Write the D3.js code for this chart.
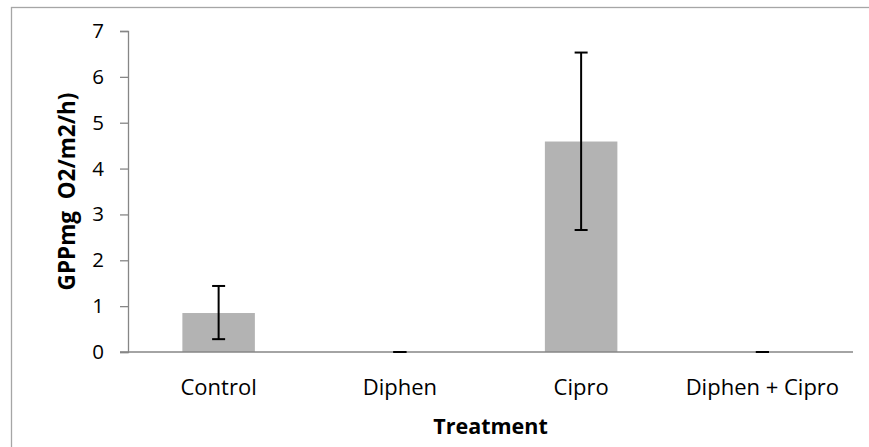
<!DOCTYPE html>
<html>
<head>
<meta charset="utf-8">
<script src="https://cdn.jsdelivr.net/npm/d3@7"></script>
<style>
  html, body { margin: 0; padding: 0; background: #fff; }
  svg { display: block; }
  text { font-family: "Open Sans", sans-serif; fill: #000; }
</style>
</head>
<body>
<div id="chart"></div>
<script>
// GPP by treatment, with error bars
const categories = ["Control", "Diphen", "Cipro", "Diphen + Cipro"];
const means = [0.85, 0, 4.59, 0];
const errLow = [0.28, 0, 2.66, 0];
const errHigh = [1.44, 0, 6.53, 0];
const yTicks = [0, 1, 2, 3, 4, 5, 6, 7];
const yTitle = "GPPmg  O2/m2/h)";
const xTitle = "Treatment";

const W = 869, H = 447;
const margin = { left: 128, right: 16, top: 31, bottom: 95 };
const FONT = "'Open Sans', sans-serif";

const svg = d3.select("#chart").append("svg")
  .attr("width", W).attr("height", H);

// chart frame
svg.append("rect")
  .attr("x", 11.5).attr("y", 7.5)
  .attr("width", W + 20).attr("height", H + 20)
  .attr("fill", "none").attr("stroke", "#a6a6a6").attr("stroke-width", 1.3);

const x = d3.scaleBand()
  .domain(categories)
  .range([margin.left, W - margin.right])
  .paddingInner(0.6).paddingOuter(0.3);

const y = d3.scaleLinear().domain([0, 7]).range([H - margin.bottom, margin.top]);

// bars
svg.append("g").selectAll("rect")
  .data(categories)
  .join("rect")
  .attr("x", d => x(d))
  .attr("width", x.bandwidth())
  .attr("y", (d, i) => y(means[i]))
  .attr("height", (d, i) => y(0) - y(means[i]))
  .attr("fill", "#b3b3b3");

// y axis
const yAxis = svg.append("g")
  .attr("transform", `translate(${margin.left},0)`)
  .call(d3.axisLeft(y).tickValues(yTicks).tickFormat(d3.format("d")).tickSize(8).tickPadding(16));
yAxis.select(".domain").attr("stroke", "#868686").attr("stroke-width", 1.3);
yAxis.selectAll(".tick line").attr("stroke", "#868686").attr("stroke-width", 1.3);
yAxis.selectAll(".tick text").attr("font-size", 20.5).attr("font-family", FONT).attr("fill", "#000");

// x axis baseline
svg.append("line")
  .attr("x1", margin.left - 8).attr("x2", W - margin.right)
  .attr("y1", y(0)).attr("y2", y(0))
  .attr("stroke", "#868686").attr("stroke-width", 1.3);

// category labels
svg.append("g").selectAll("text")
  .data(categories)
  .join("text")
  .attr("x", d => x(d) + x.bandwidth() / 2)
  .attr("y", 395)
  .attr("text-anchor", "middle")
  .attr("font-size", 22)
  .text(d => d);

// error bars
const eb = svg.append("g").attr("stroke", "#000").attr("stroke-width", 2);
categories.forEach((c, i) => {
  const cx = x(c) + x.bandwidth() / 2;
  eb.append("line").attr("x1", cx).attr("x2", cx).attr("y1", y(errLow[i])).attr("y2", y(errHigh[i]));
  [errLow[i], errHigh[i]].forEach(v => {
    eb.append("line").attr("x1", cx - 6.5).attr("x2", cx + 6.5).attr("y1", y(v)).attr("y2", y(v));
  });
});

// axis titles
svg.append("text")
  .attr("transform", `translate(75,${(y(0) + y(7)) / 2}) rotate(-90)`)
  .attr("text-anchor", "middle")
  .attr("font-size", 22.5).attr("font-weight", "bold")
  .attr("xml:space", "preserve").style("white-space", "pre")
  .text(yTitle);

svg.append("text")
  .attr("x", (margin.left + W - margin.right) / 2).attr("y", 434)
  .attr("text-anchor", "middle")
  .attr("font-size", 21.5).attr("font-weight", "bold")
  .text(xTitle);
</script>
</body>
</html>
